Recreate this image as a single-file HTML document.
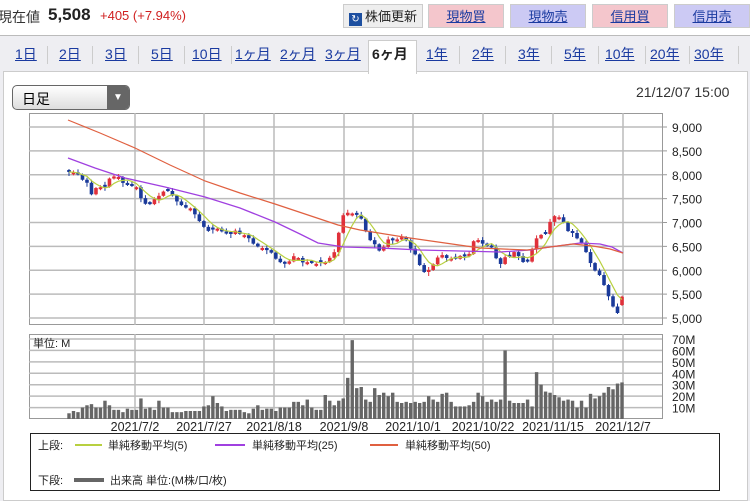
<!DOCTYPE html>
<html><head><meta charset="utf-8"><style>
body{margin:0;width:750px;height:499px;overflow:hidden;background:#eeeef2;font-family:"Liberation Sans","Noto Sans CJK JP",sans-serif;position:relative}
.a{position:absolute;white-space:nowrap}
.btn{position:absolute;top:4px;height:24px;line-height:24px;text-align:center;font-size:13px;color:#1a3aa0;text-decoration:underline;border:1px solid #ccc;box-sizing:border-box}
.tab{position:absolute;top:44px;font-size:14px;color:#1a3aa0;text-decoration:underline}
.sep{position:absolute;top:46px;width:1px;height:18px;background:#ccc}
</style></head><body>
<div class="a" style="left:0;top:0;width:750px;height:35px;background:#fff;border-bottom:1px solid #bbb"></div>
<div class="a" style="left:-2px;top:7px;font-size:14px;color:#333">現在値</div>
<div class="a" style="left:48px;top:5px;font-size:17px;font-weight:bold;color:#222">5,508</div>
<div class="a" style="left:100px;top:8px;font-size:13px;color:#d02020">+405 (+7.94%)</div>
<div class="btn" style="left:343px;width:80px;background:#eee;color:#222;text-decoration:none"><span style="display:inline-block;width:13px;height:13px;background:#1d4fa0;color:#fff;font-size:10px;line-height:13px;vertical-align:-1px;margin-right:3px">↻</span>株価更新</div>
<div class="btn" style="left:428px;width:76px;background:#f4c6cc">現物買</div>
<div class="btn" style="left:510px;width:76px;background:#cccaf4">現物売</div>
<div class="btn" style="left:592px;width:76px;background:#f4c6cc">信用買</div>
<div class="btn" style="left:674px;width:76px;background:#cccaf4">信用売</div>
<div class="a" style="left:3px;top:71px;width:745px;height:430px;background:#fff;border:1px solid #ccc;box-sizing:border-box"></div>
<div class="a" style="left:368px;top:40px;width:47px;height:33px;background:#fff;border:1px solid #ccc;border-bottom:none"></div>
<div class="sep" style="left:47px"></div><div class="sep" style="left:92px"></div><div class="sep" style="left:138px"></div><div class="sep" style="left:184px"></div><div class="sep" style="left:231px"></div><div class="sep" style="left:459px"></div><div class="sep" style="left:505px"></div><div class="sep" style="left:551px"></div><div class="sep" style="left:598px"></div><div class="sep" style="left:645px"></div><div class="sep" style="left:689px"></div><div class="sep" style="left:738px"></div>
<div class="tab" style="left:15px">1日</div><div class="tab" style="left:59px">2日</div><div class="tab" style="left:105px">3日</div><div class="tab" style="left:151px">5日</div><div class="tab" style="left:192px">10日</div><div class="tab" style="left:235px">1ヶ月</div><div class="tab" style="left:280px">2ヶ月</div><div class="tab" style="left:325px">3ヶ月</div>
<div class="tab" style="left:372px;color:#222;text-decoration:none;font-weight:bold">6ヶ月</div>
<div class="tab" style="left:426px">1年</div><div class="tab" style="left:472px">2年</div><div class="tab" style="left:518px">3年</div><div class="tab" style="left:564px">5年</div><div class="tab" style="left:605px">10年</div><div class="tab" style="left:650px">20年</div><div class="tab" style="left:694px">30年</div>
<div class="a" style="left:12px;top:85px;width:118px;height:25px;border:1px solid #666;border-radius:5px;background:linear-gradient(#fff,#ddd);box-sizing:border-box;overflow:hidden"><span style="position:absolute;left:9px;top:3px;font-size:14px">日足</span><span style="position:absolute;right:0;top:0;width:22px;height:25px;background:#666;color:#fff;font-size:10px;text-align:center;line-height:23px">▼</span></div>
<div class="a" style="left:636px;top:84px;font-size:14px;color:#333">21/12/07 15:00</div>
<svg class="a" style="left:0;top:0" width="750" height="499" id="s"></svg>
<script>
var s=document.getElementById('s'),h='';
function L(x1,y1,x2,y2,c,w){h+='<line x1="'+x1+'" y1="'+y1+'" x2="'+x2+'" y2="'+y2+'" stroke="'+c+'" stroke-width="'+(w||1)+'"/>';}
function T(x,y,t,a,sz){h+='<text x="'+x+'" y="'+y+'" font-size="'+(sz||12)+'" text-anchor="'+(a||'start')+'" fill="#222">'+t+'</text>';}
var gx=[135,204,274,344,413,483,553,623];
h+='<rect x="29.5" y="113.5" width="633" height="211" fill="#fff" stroke="#999"/>';
for(var i=0;i<9;i++){var y=127+i*23.875;L(29,y,662,y,'#bbb',1.5);T(672,y+5,['9,000','8,500','8,000','7,500','7,000','6,500','6,000','5,500','5,000'][i]);L(662,y,667,y,'#999');}
gx.forEach(function(x){L(x,113,x,325,'#bbb',1.5)});
h+='<rect x="29.5" y="334.5" width="633" height="84" fill="#fff" stroke="#999"/>';
for(var i=0;i<7;i++){var y=339+i*11.43;L(29,y,662,y,'#bbb',1.5);T(672,y+5,(70-i*10)+'M');}
gx.forEach(function(x){L(x,334,x,419,'#bbb',1.5)});
T(33,347,'単位: M','start',11);
var lb=['2021/7/2','2021/7/27','2021/8/18','2021/9/8','2021/10/1','2021/10/22','2021/11/15','2021/12/7'];
gx.forEach(function(x,i){T(x,431,lb[i],'middle',12.5)});
var K=[68,172,72,172,76,173,80,176,84,182,88,183,92,196,96,188,100,187,104,189,108,180,112,176,116,177,120,177,124,185,128,185,132,186,136,186,140,197,144,202,148,207,152,201,156,198,160,195,164,191,168,191,172,195,176,201,180,203,184,209,188,206,192,210,196,216,200,222,204,227,208,231,212,230,216,228,220,230,224,233,228,234,232,234,236,230,240,234,244,235,248,237,252,243,256,245,260,248,264,248,268,251,272,253,276,259,280,262,284,264,288,263,292,258,296,254,300,261,304,263,308,262,312,263,316,264,320,262,324,263,328,260,332,255,336,250,340,225,345,210,350,215,353,213,357,215,361,218,366,232,370,240,374,243,378,250,382,252,386,240,390,239,394,241,398,239,402,237,406,240,410,248,414,252,418,260,422,272,426,272,430,269,434,263,438,257,442,255,446,258,450,258,454,260,458,257,462,255,466,257,470,253,474,240,478,240,482,243,486,247,490,243,494,254,498,262,502,265,506,255,510,257,514,252,518,255,522,262,526,262,530,261,534,239,538,238,542,234,546,234,550,222,554,216,558,217,562,218,566,229,570,233,574,233,578,240,582,243,586,252,590,262,594,270,598,272,602,280,606,290,610,300,616,313,623,294];
function iy(x){for(var j=0;j<K.length-2;j+=2){if(x<=K[j+2])return K[j+1]+(K[j+3]-K[j+1])*(x-K[j])/(K[j+2]-K[j]);}return K[K.length-1];}
var vol=[5,7,6,10,12,13,10,10,16,12,8,8,6,9,8,8,18,9,10,8,16,10,10,6,6,6,7,7,7,7,11,12,20,14,11,7,8,8,8,6,5,9,12,8,9,9,7,10,10,10,15,15,12,17,10,8,8,21,16,12,16,18,36,69,27,28,17,15,27,21,23,20,23,15,14,15,14,15,14,15,20,17,15,22,23,15,11,11,11,12,15,23,20,15,17,15,17,60,16,14,14,14,17,11,41,30,24,23,21,19,16,17,16,10,16,10,22,18,20,23,28,26,31,32];
var n=vol.length,st=(622-69)/(n-1),cl=[],prev=iy(68);
for(var i=0;i<n;i++){var x=69+i*st,c=iy(x);if(i==n-2)c=313;cl.push(c);
 var o=prev;if(i==n-1)o=305;if(Math.abs(o-c)<2)o=c+((i%2)?2:-2);
 var up=c<o,col=up?'#e0303a':'#1a3a9a',t=Math.min(o,c),b=Math.max(o,c);
 L(x,t-1-(i%3),x,b+1+(i%4==0?3:0),col);
 h+='<rect x="'+(x-1.8)+'" y="'+t+'" width="3.6" height="'+(b-t)+'" fill="'+col+'"/>';
 prev=c;
 var vh=vol[i]*1.143;h+='<rect x="'+(x-1.7)+'" y="'+(419-vh)+'" width="3.4" height="'+vh+'" fill="#666"/>';}
var p='';for(var i=0;i<n;i++){var a=0,k=0;for(var j=Math.max(0,i-4);j<=i;j++){a+=cl[j];k++;}p+=(69+i*st)+','+(a/k)+' ';}
h+='<polyline points="'+p+'" fill="none" stroke="#b8d040" stroke-width="1.2"/>';
h+='<polyline points="68,158 95,168 125,178 165,187 205,197 240,208 275,222 300,234 318,243 344,247 380,248 420,250 460,251 500,252 530,250 550,247 580,243 600,244 612,247 623,253" fill="none" stroke="#a040e0" stroke-width="1.3"/>';
h+='<polyline points="68,120 100,133 135,148 170,165 205,181 240,193 275,204 305,214 338,225 360,230 410,238 445,243 480,248 527,250 550,247 573,244 593,246 610,249 623,253" fill="none" stroke="#e06040" stroke-width="1.2"/>';
h+='<rect x="30.5" y="433.5" width="689" height="57" fill="#fff" stroke="#222"/>';
T(38,449,'上段:','start',11);L(75,445,102,445,'#b8d040',2);T(108,449,'単純移動平均(5)','start',11);
L(215,445,245,445,'#a040e0',2);T(252,449,'単純移動平均(25)','start',11);
L(370,445,398,445,'#e06040',2);T(405,449,'単純移動平均(50)','start',11);
T(38,484,'下段:','start',11);L(74,480,104,480,'#666',4);T(110,484,'出来高 単位:(M株/口/枚)','start',11);
s.innerHTML=h;
</script>
</body></html>
